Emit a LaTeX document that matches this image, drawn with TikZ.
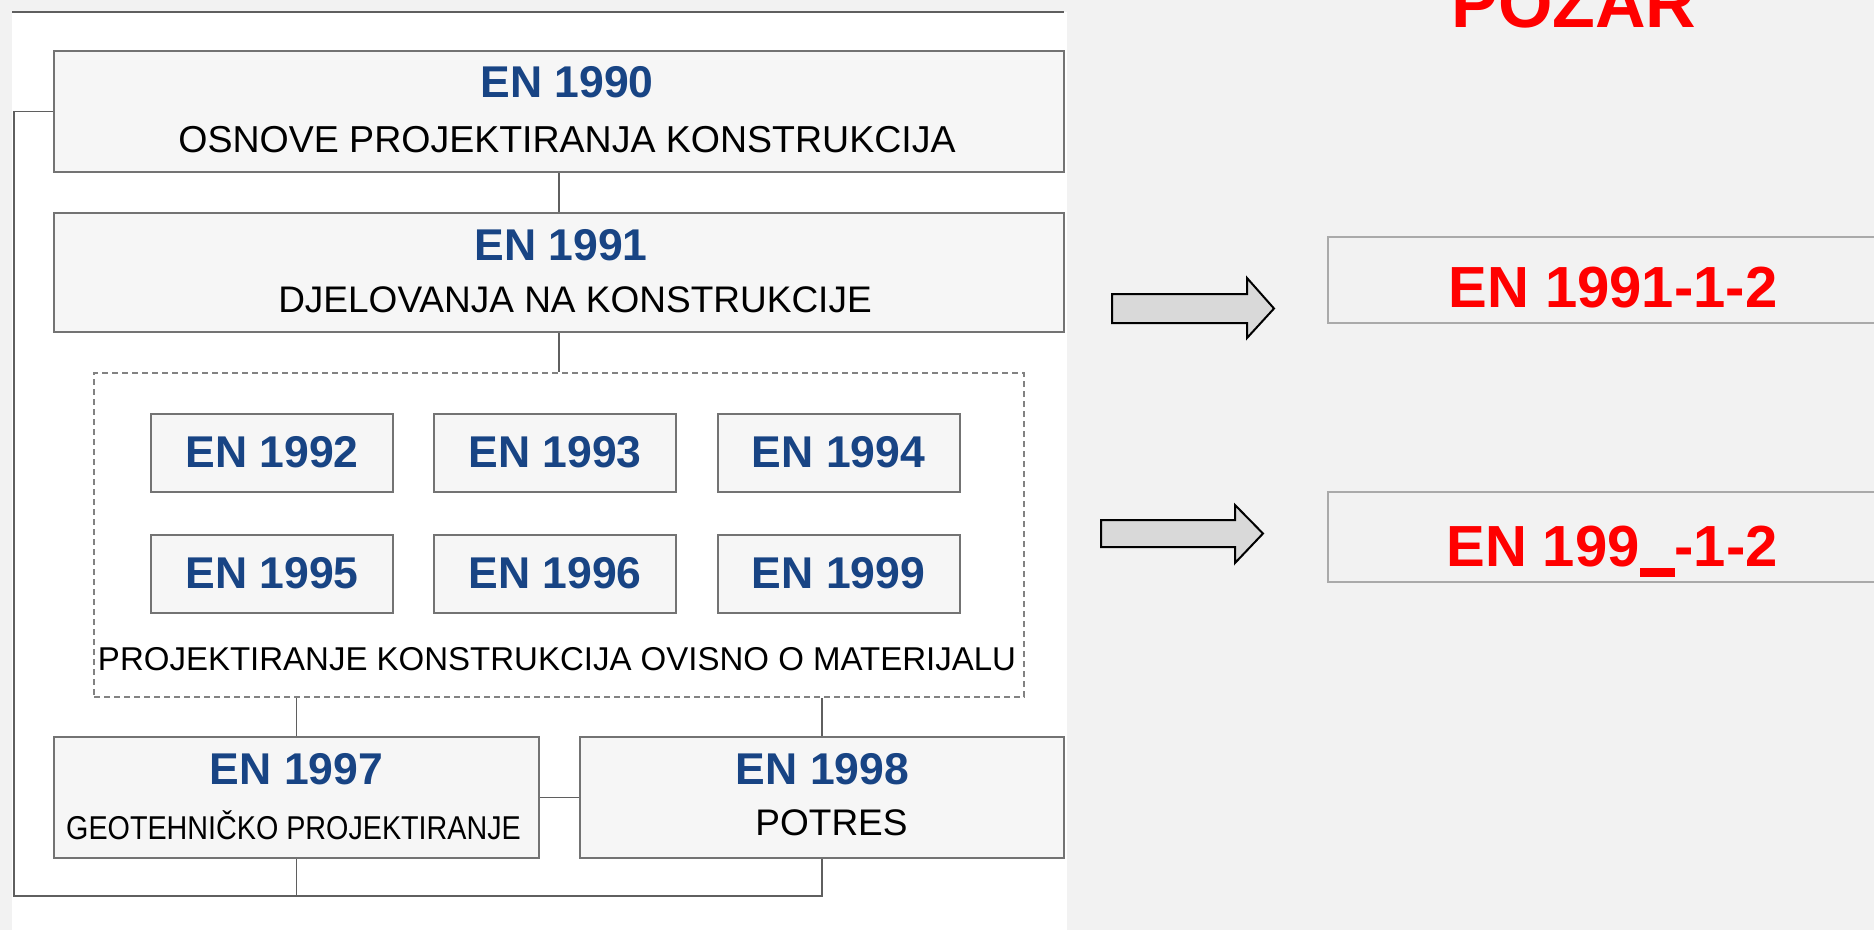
\documentclass[tikz,border=0pt]{standalone}
\usepackage{fontspec}
\setmainfont{Liberation Sans}
\definecolor{bggray}{RGB}{242,242,242}
\definecolor{boxfill}{RGB}{246,246,246}
\definecolor{boxline}{RGB}{115,115,115}
\definecolor{dashline}{RGB}{130,130,130}
\definecolor{connline}{RGB}{95,95,95}
\definecolor{enblue}{RGB}{24,68,132}
\definecolor{enred}{RGB}{255,0,0}
\definecolor{arrowfill}{RGB}{217,217,217}
\definecolor{rboxline}{RGB}{170,170,170}
\begin{document}
\begin{tikzpicture}[x=1pt,y=-1pt,
  bigbox/.style={draw=boxline, line width=2pt, fill=boxfill, inner sep=0pt},
  smallbox/.style={draw=boxline, line width=2pt, fill=boxfill, inner sep=0pt, minimum width=242pt, minimum height=78pt},
  dashbox/.style={draw=dashline, line width=2pt, dash pattern=on 6pt off 4pt, inner sep=0pt},
  rbox/.style={draw=rboxline, line width=2pt, fill=bggray, inner sep=0pt, minimum width=552pt},
  conn/.style={draw=connline, line width=1.8pt},
  bluetxt/.style={text=enblue, font=\fontsize{44.5}{48}\selectfont\bfseries, inner sep=0pt, anchor=base},
  blacktxt/.style={text=black, inner sep=0pt, anchor=base},
  redtxt/.style={text=enred, font=\fontsize{58}{62}\selectfont\bfseries, inner sep=0pt, anchor=base},
  blockarrow/.style={draw=black, line width=2pt, fill=arrowfill, line join=miter}
]
\useasboundingbox (0,0) rectangle (1874,930);
\fill[bggray] (0,0) rectangle (1874,930);
\fill[white] (12,12) rectangle (1067,930);
\draw[draw=connline, line width=2pt] (12,11.5) -- (1064,11.5);

% boxes
\node[bigbox, minimum width=1010pt, minimum height=121pt] (b90) at (559,111.5) {};
\node[bigbox, minimum width=1010pt, minimum height=119pt] (b91) at (559,272.5) {};
\node[dashbox, minimum width=930pt, minimum height=324pt] (mat) at (559,535) {};
\node[smallbox] (b92) at (272,453) {};
\node[smallbox] (b93) at (555,453) {};
\node[smallbox] (b94) at (838.5,453) {};
\node[smallbox] (b95) at (272,574) {};
\node[smallbox] (b96) at (555,574) {};
\node[smallbox] (b99) at (838.5,574) {};
\node[bigbox, minimum width=485pt, minimum height=121pt] (b97) at (296.5,797.5) {};
\node[bigbox, minimum width=484pt, minimum height=121pt] (b98) at (822,797.5) {};

% connectors
\coordinate (cl) at (14,896);
\draw[conn] (b90.south) -- (b91.north);
\draw[conn] (b91.south) -- (mat.north);
\draw[conn] (b97.north |- mat.south) -- (b97.north);
\draw[conn] (b98.north |- mat.south) -- (b98.north);
\draw[conn] (b97.east) -- (b98.west);
\draw[conn] (b90.west) -| (cl) -| (b98.south);
\draw[conn] (b97.south) -- (b97.south |- cl);

% texts
\node[bluetxt] (t90) at (567,97) {EN 1990};
\node[blacktxt, font=\fontsize{37.5}{40}\selectfont] (s90) at (567,152) {OSNOVE PROJEKTIRANJA KONSTRUKCIJA};
\node[bluetxt] (t91) at (561,260) {EN 1991};
\node[blacktxt, font=\fontsize{37}{40}\selectfont] (s91) at (575,312) {DJELOVANJA NA KONSTRUKCIJE};
\node[bluetxt] (t92) at (272,467) {EN 1992};
\node[bluetxt] (t93) at (555,467) {EN 1993};
\node[bluetxt] (t94) at (838.5,467) {EN 1994};
\node[bluetxt] (t95) at (272,588) {EN 1995};
\node[bluetxt] (t96) at (555,588) {EN 1996};
\node[bluetxt] (t99) at (838.5,588) {EN 1999};
\node[blacktxt, font=\fontsize{33}{36}\selectfont] (smat) at (557,670) {PROJEKTIRANJE KONSTRUKCIJA OVISNO O MATERIJALU};
\node[bluetxt] (t97) at (296.5,784) {EN 1997};
\node[blacktxt, font=\fontsize{33}{36}\selectfont] (s97) at (293.5,839) {\scalebox{0.87}[1]{GEOTEHNIČKO PROJEKTIRANJE}};
\node[bluetxt] (t98) at (822.5,784) {EN 1998};
\node[blacktxt, font=\fontsize{37}{40}\selectfont] (s98) at (831.5,835) {POTRES};

% right side
\node[text=enred, font=\fontsize{70}{74}\selectfont\bfseries, inner sep=0pt, anchor=base] (pozar) at (1574,27) {POŽAR};
\node[rbox, minimum height=86pt] (r1) at (1604,280) {};
\node[rbox, minimum height=90pt] (r2) at (1604,537) {};
\node[redtxt] (rt1) at (1613,307) {EN 1991-1-2};
\node[redtxt] (rt2) at (1612,566) {EN 199\rule[-0.19em]{0.6em}{0.16em}-1-2};

\draw[blockarrow] (1112,294) -- (1247,294) -- (1247,278) -- (1274,308.5) -- (1247,338) -- (1247,323) -- (1112,323) -- cycle;
\draw[blockarrow] (1101,520) -- (1235,520) -- (1235,505) -- (1263,533.5) -- (1235,563) -- (1235,547) -- (1101,547) -- cycle;
\end{tikzpicture}
\end{document}
